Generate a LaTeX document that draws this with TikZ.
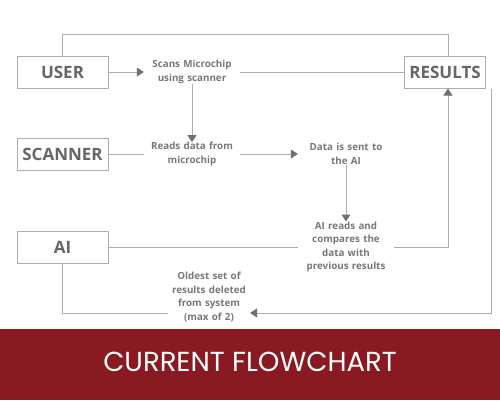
\documentclass[tikz,border=0pt]{standalone}
\usepackage{fontspec}
\setmainfont{Open Sans}
\newfontfamily\bannerfont{Poppins}
\usetikzlibrary{arrows.meta}
\usetikzlibrary{positioning}
\definecolor{linegray}{HTML}{ADADAD}
\definecolor{tipgray}{HTML}{707070}
\definecolor{textgray}{HTML}{666666}
\definecolor{notegray}{HTML}{777777}
\definecolor{bannerred}{HTML}{8A1A22}
\tikzstyle{block} = [draw=linegray, line width=1pt, rectangle,
    minimum height=32pt, minimum width=91pt, inner sep=0pt,
    text=textgray, font=\bfseries\fontsize{17}{20}\selectfont]
\tikzstyle{stage} = [text width=96pt, inner sep=0pt, align=center,
    text=notegray, font=\bfseries\fontsize{9.8}{13.6}\selectfont]
\tikzstyle{wire} = [draw=linegray, line width=1pt]
\tikzstyle{corner} = [coordinate]

\begin{document}
\begin{tikzpicture}[x=1pt, y=-1pt, >={Triangle[width=9pt,length=7pt,color=tipgray]}]
    \useasboundingbox (0,0) rectangle (500,400);

    % banner at the bottom
    \fill [bannerred] (0,329) rectangle (500,400);
    \node [text=white, font=\bannerfont\fontsize{27.5}{30}\selectfont] (title) at (250,362) {CURRENT FLOWCHART};

    % We start by placing the blocks
    \node [block] (user) at (62.5,72) {USER};
    \node [block] (scanner) at (62.5,154) {SCANNER};
    \node [block] (ai) at (62.5,247) {AI};
    \node [block, minimum width=81pt] (results) at (445,72) {RESULTS};

    % then the steps between them
    \node [stage] (scan) at (192,72) {Scans Microchip\\using scanner};
    \node [stage] (read) at (192,154) {Reads data from\\microchip};
    \node [stage] (send) at (346,154) {Data is sent to\\the AI};
    \node [stage] (compare) at (346,247) {AI reads and\\compares the\\data with\\previous results};
    \node [stage, text width=82pt] (oldest) at (209,297) {Oldest set of\\results deleted\\from system\\(max of 2)};
    \node [corner] (delin) at (250,313) {};
    \node [corner] (delout) at (168,313) {};

    % Once the nodes are placed, connecting them is easy.
    \draw [wire] (user.north) -- ++(0,-21) -| ([xshift=3pt]results.north);
    \draw [wire,->] (user) -- (scan);
    \draw [wire] (scan) -- (results);
    \draw [wire,->] (scan) -- (read);
    \draw [wire] (scanner) -- (read);
    \draw [wire,->] (read) -- (send);
    \draw [wire,->] (send) -- (compare);
    \draw [wire] (ai) -- (compare);
    \draw [wire,->] (compare) -| ([xshift=3pt]results.south);
    \draw [wire,->] ([xshift=5pt]results.south east) |- (delin);
    \draw [wire] (ai) |- (delout);
\end{tikzpicture}
\end{document}
